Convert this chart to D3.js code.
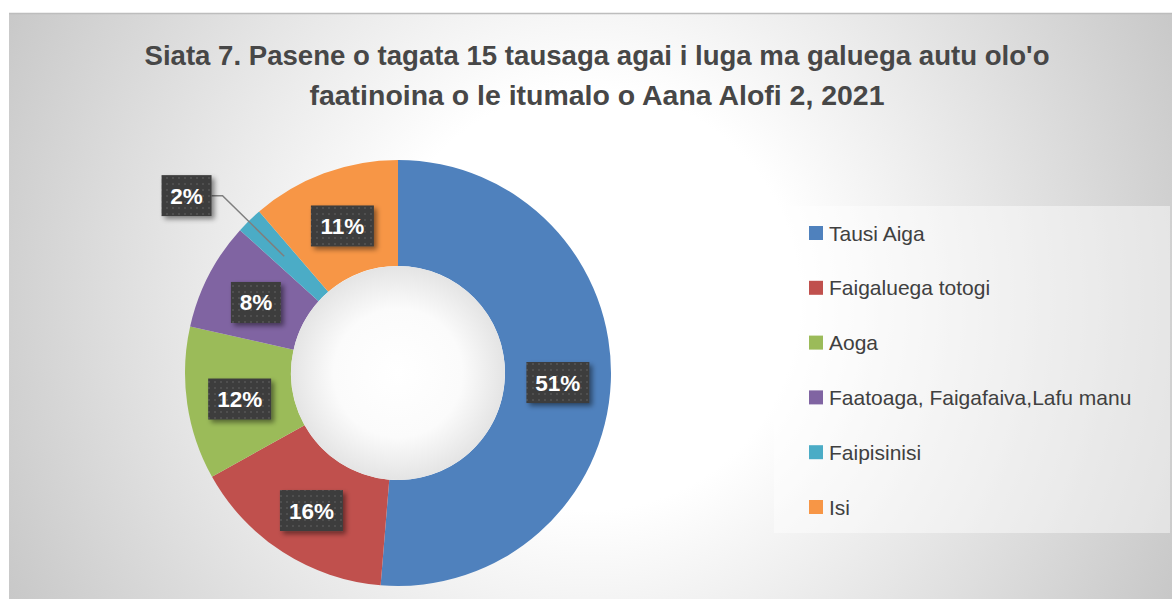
<!DOCTYPE html>
<html><head><meta charset="utf-8">
<script src="https://cdn.jsdelivr.net/npm/d3@7/dist/d3.min.js"></script>
<style>html,body{margin:0;padding:0;background:#fff;}svg{display:block;}</style>
</head><body>
<svg id="chart" width="1172" height="599"></svg>
<script>
const categories = ["Tausi Aiga","Faigaluega totogi","Aoga","Faatoaga, Faigafaiva,Lafu manu","Faipisinisi","Isi"];
const values = [51.3, 15.6, 11.6, 8.2, 2.0, 11.3];
const colors = ["#4f81bd","#c0504d","#9bbb59","#8064a2","#4bacc6","#f79646"];
const titleLines = ["Siata 7. Pasene o tagata 15 tausaga agai i luga ma galuega autu olo'o","faatinoina o le itumalo o Aana Alofi 2, 2021"];

const W = 1172, H = 599;
const svg = d3.select("#chart");
const defs = svg.append("defs");

// background gradient
const bg = defs.append("radialGradient").attr("id","bgGrad").attr("gradientUnits","userSpaceOnUse")
  .attr("cx",590).attr("cy",300).attr("r",700);
bg.append("stop").attr("offset","0").attr("stop-color","#ffffff");
bg.append("stop").attr("offset","0.3").attr("stop-color","#ffffff");
bg.append("stop").attr("offset","1").attr("stop-color","#c2c2c2");

const hole = defs.append("radialGradient").attr("id","holeGrad");
hole.append("stop").attr("offset","0").attr("stop-color","#ffffff");
hole.append("stop").attr("offset","0.6").attr("stop-color","#fbfbfb");
hole.append("stop").attr("offset","1").attr("stop-color","#e4e4e4");

// dotted dark pattern for labels
const pat = defs.append("pattern").attr("id","dots").attr("patternUnits","userSpaceOnUse")
  .attr("width",6).attr("height",6);
pat.append("rect").attr("width",6).attr("height",6).attr("fill","#3d3d3d");
pat.append("circle").attr("cx",3).attr("cy",3).attr("r",1).attr("fill","#555555");

const shadow = defs.append("filter").attr("id","shadow").attr("x","-30%").attr("y","-30%").attr("width","170%").attr("height","170%");
shadow.append("feDropShadow").attr("dx",3).attr("dy",3).attr("stdDeviation",2.5).attr("flood-color","#000").attr("flood-opacity",0.45);

// chart area
svg.append("rect").attr("x",9).attr("y",13).attr("width",W-9).attr("height",H-13)
  .attr("fill","url(#bgGrad)");
svg.append("line").attr("x1",9).attr("x2",W).attr("y1",13.5).attr("y2",13.5).attr("stroke","#bdbdbd").attr("stroke-width",1.5);

// title
const title = svg.append("text").attr("text-anchor","middle")
  .attr("font-family","'Liberation Sans', Arial, sans-serif").attr("font-weight","bold")
  .attr("font-size",27).attr("fill","#474747");
const titleWidths = [905, 575];
titleLines.forEach((t,i)=>{
  title.append("tspan").attr("x",597).attr("y",65+i*40)
    .attr("textLength",titleWidths[i]).attr("lengthAdjust","spacingAndGlyphs").text(t);
});

// donut
const cx = 398, cy = 373, rOuter = 213, rInner = 107;
const pie = d3.pie().sort(null).value(d=>d)(values);
const arc = d3.arc().innerRadius(rInner).outerRadius(rOuter);
const g = svg.append("g").attr("transform",`translate(${cx},${cy})`);
g.selectAll("path.slice").data(pie).enter().append("path")
  .attr("class","slice").attr("d",arc).attr("fill",(d,i)=>colors[i]);
g.append("circle").attr("r",rInner).attr("fill","url(#holeGrad)");

// labels
const total = d3.sum(values);
const labelArc = d3.arc().innerRadius((rInner+rOuter)/2).outerRadius((rInner+rOuter)/2);
const polar = (a,r)=>[r*Math.sin(a), -r*Math.cos(a)];
pie.forEach((d,i)=>{
  const pct = Math.round(d.value/total*100) + "%";
  const small = d.value/total < 0.04;
  let x, y;
  const mid = (d.startAngle+d.endAngle)/2;
  if (small) {
    [x,y] = polar(mid - 0.1, 276);
  } else {
    [x,y] = labelArc.centroid(d);
    y += 3;
  }
  const bw = pct.length>2 ? 63 : 50, bh = 41;
  if (small) {
    const [px,py] = polar(mid, 163);
    g.append("polyline")
      .attr("points",[[x+bw/2,y],[x+bw/2+11,y],[px,py]].map(p=>p.join(",")).join(" "))
      .attr("fill","none").attr("stroke","#7f7f7f").attr("stroke-width",1.5);
  }
  g.append("rect").attr("x",x-bw/2).attr("y",y-bh/2).attr("width",bw).attr("height",bh)
    .attr("fill","url(#dots)").attr("filter","url(#shadow)");
  g.append("text").attr("x",x).attr("y",y+8).attr("text-anchor","middle")
    .attr("font-family","'Liberation Sans', Arial, sans-serif").attr("font-weight","bold")
    .attr("font-size",22.5).attr("fill","#ffffff").text(pct);
});

// legend
const lg = svg.append("g");
lg.append("rect").attr("x",774).attr("y",206).attr("width",396).attr("height",327)
  .attr("fill","#ffffff").attr("fill-opacity",0.45);
const ly = d3.scalePoint().domain(categories).range([233,507]);
categories.forEach((c,i)=>{
  lg.append("rect").attr("x",809).attr("y",ly(c)-7).attr("width",14).attr("height",14).attr("fill",colors[i]);
  lg.append("text").attr("x",829).attr("y",ly(c)+7.5)
    .attr("font-family","'Liberation Sans', Arial, sans-serif").attr("font-size",21)
    .attr("fill","#404040").text(c);
});
</script>
</body></html>
